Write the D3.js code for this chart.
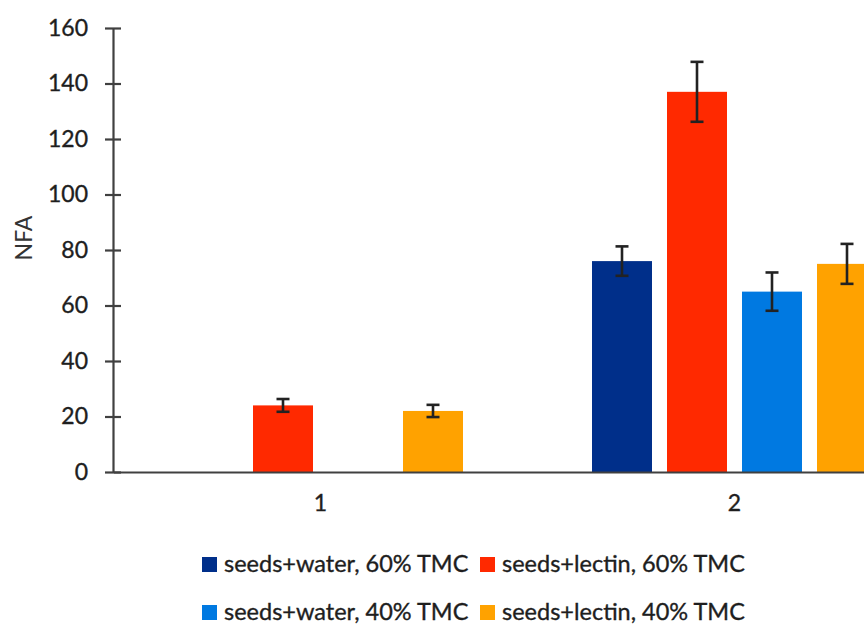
<!DOCTYPE html>
<html>
<head>
<meta charset="utf-8">
<script src="https://cdn.jsdelivr.net/npm/d3@7"></script>
<style>
  html, body { margin: 0; padding: 0; background: #fff; overflow: hidden; }
  svg { display: block; }
  text { font-family: Lato, "Open Sans", "DejaVu Sans", sans-serif; fill: #1e1e1e; stroke: #1e1e1e; stroke-width: 0.35px; }
</style>
</head>
<body>
<svg id="chart" width="864" height="624"></svg>
<script>
const categories = ["1", "2"];
const seriesNames = [
  "seeds+water, 60% TMC",
  "seeds+lectin, 60% TMC",
  "seeds+water, 40% TMC",
  "seeds+lectin, 40% TMC"
];
const seriesColors = ["#002f8a", "#ff2900", "#0079e1", "#ffa200"];
const waterTMC60 = [null, 76];
const lectinTMC60 = [24, 137];
const waterTMC40 = [null, 65];
const lectinTMC40 = [22, 75];
const waterTMC60Err = [null, 5.3];
const lectinTMC60Err = [2.3, 10.8];
const waterTMC40Err = [null, 6.9];
const lectinTMC40Err = [2.2, 7.2];
const yTicks = [0, 20, 40, 60, 80, 100, 120, 140, 160];

const seriesValues = [waterTMC60, lectinTMC60, waterTMC40, lectinTMC40];
const seriesErrors = [waterTMC60Err, lectinTMC60Err, waterTMC40Err, lectinTMC40Err];

const svg = d3.select("#chart");

const y = d3.scaleLinear().domain([0, 160]).range([472, 28]);
const x0 = d3.scaleBand().domain(categories).range([113.5, 941.5]).padding(0);
const x1 = d3.scaleBand().domain(d3.range(seriesNames.length))
  .range([0, x0.bandwidth()]).paddingInner(0.2).paddingOuter(0.86);

const rows = [];
categories.forEach((c, ci) => {
  seriesValues.forEach((vals, si) => {
    if (vals[ci] != null) rows.push({ cat: c, s: si, v: vals[ci], e: seriesErrors[si][ci] });
  });
});

svg.append("g").selectAll("rect").data(rows).join("rect")
  .attr("x", d => x0(d.cat) + x1(d.s))
  .attr("y", d => y(d.v))
  .attr("width", x1.bandwidth())
  .attr("height", d => y(0) - y(d.v))
  .attr("fill", d => seriesColors[d.s]);

const eg = svg.append("g").attr("stroke", "#222").attr("stroke-width", 2.6);
rows.forEach(d => {
  const cx = x0(d.cat) + x1(d.s) + x1.bandwidth() / 2;
  eg.append("line").attr("x1", cx).attr("x2", cx).attr("y1", y(d.v + d.e)).attr("y2", y(d.v - d.e));
  eg.append("line").attr("x1", cx - 6.5).attr("x2", cx + 6.5).attr("y1", y(d.v + d.e)).attr("y2", y(d.v + d.e));
  eg.append("line").attr("x1", cx - 6.5).attr("x2", cx + 6.5).attr("y1", y(d.v - d.e)).attr("y2", y(d.v - d.e));
});

const yAxis = d3.axisLeft(y).tickValues(yTicks).tickSize(0).tickPadding(25);
const yg = svg.append("g").attr("transform", "translate(113,0)").call(yAxis);
yg.select(".domain").attr("stroke", "#404040").attr("stroke-width", 2.2);
yg.selectAll(".tick line").remove();
yg.selectAll(".tick").append("line")
  .attr("x1", -8).attr("x2", 8).attr("stroke", "#404040").attr("stroke-width", 2.2);
yg.selectAll(".tick text")
  .style("font-family", "Lato, 'Open Sans', sans-serif")
  .attr("font-size", 23);

const xAxis = d3.axisBottom(x0).tickSize(0).tickPadding(23);
const xg = svg.append("g").attr("transform", "translate(0,472)").call(xAxis);
xg.select(".domain").attr("stroke", "#404040").attr("stroke-width", 2.2);
xg.selectAll(".tick text")
  .style("font-family", "Lato, 'Open Sans', sans-serif")
  .attr("font-size", 23);

svg.append("text")
  .attr("transform", "translate(32,238) rotate(-90)")
  .attr("text-anchor", "middle")
  .attr("font-size", 23)
  .style("fill", "#333").style("stroke", "none")
  .text("NFA");

const legendPos = [
  { x: 202, y: 572 }, { x: 480, y: 572 },
  { x: 202, y: 620 }, { x: 480, y: 620 }
];
const lg = svg.append("g");
seriesNames.forEach((name, i) => {
  const p = legendPos[i];
  lg.append("rect").attr("x", p.x).attr("y", p.y - 15).attr("width", 15).attr("height", 15)
    .attr("fill", seriesColors[i]);
  lg.append("text").attr("x", p.x + 22).attr("y", p.y).attr("font-size", 23.5)
    .text(name);
});
</script>
</body>
</html>
